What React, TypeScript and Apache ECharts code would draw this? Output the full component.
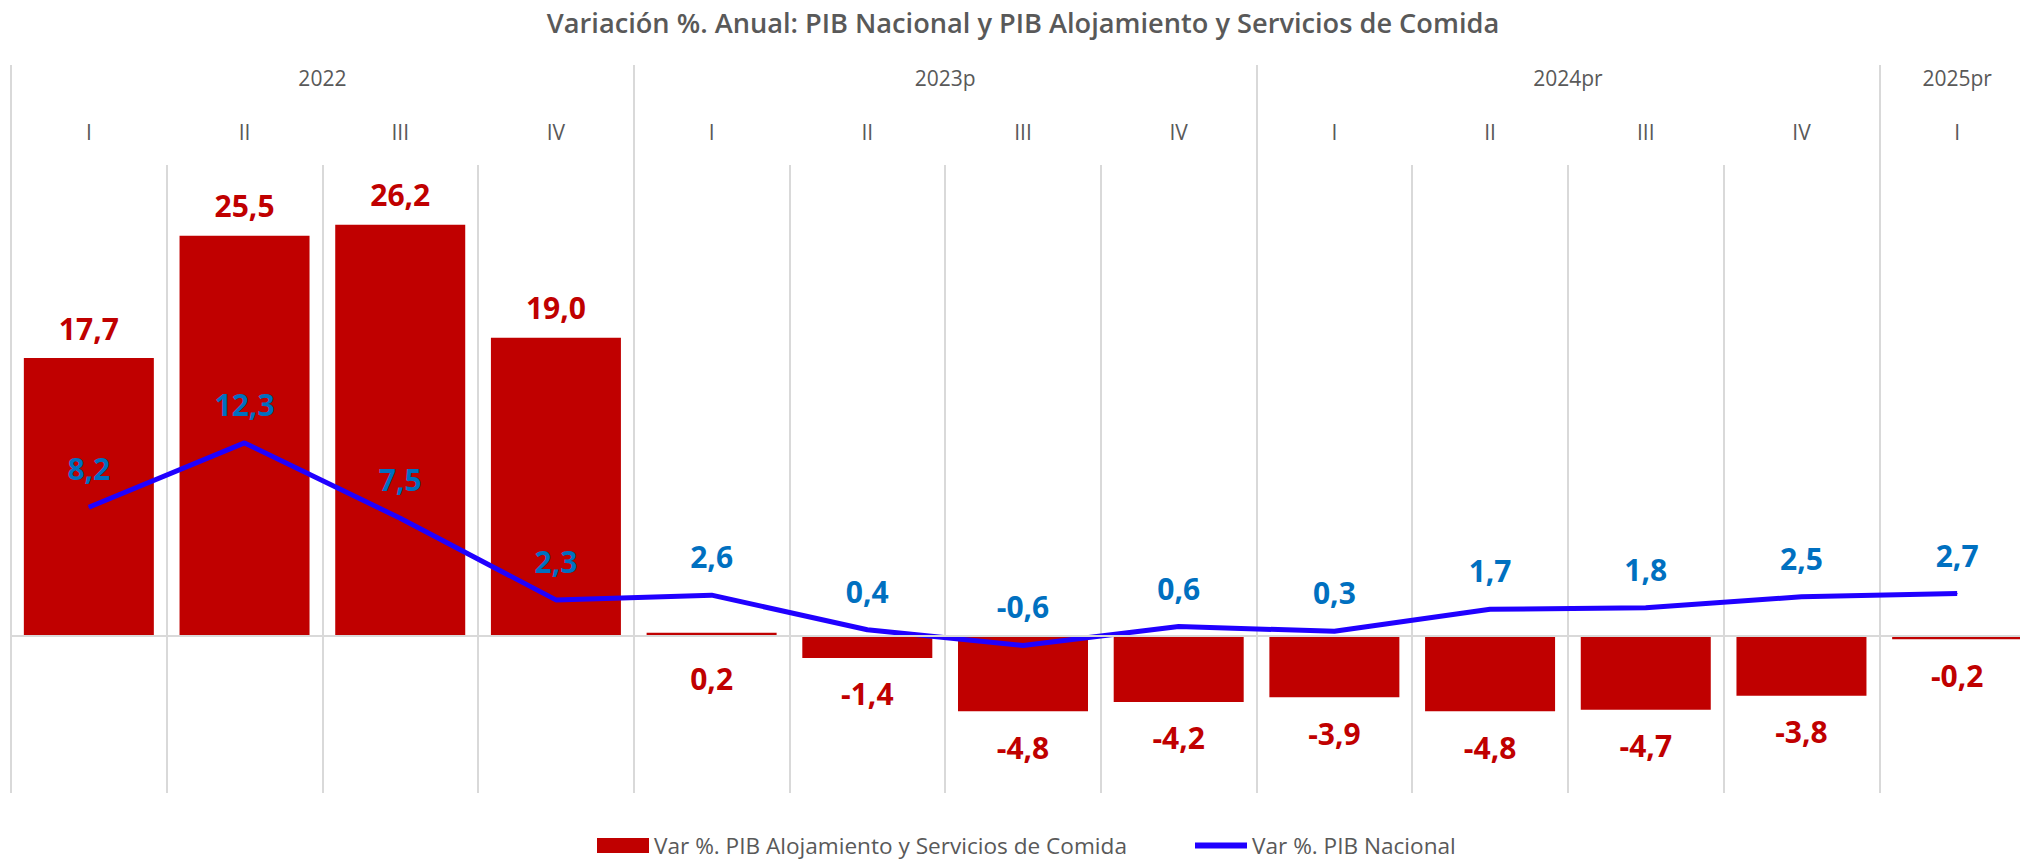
import React, { useEffect, useRef } from "react";
import * as echarts from "echarts";

const quarters = ["I", "II", "III", "IV", "I", "II", "III", "IV", "I", "II", "III", "IV", "I"];
const years = ["2022", "2023p", "2024pr", "2025pr"];
const yearCenters = [2, 6, 10, 12.5];
const yearBounds = [0, 4, 8, 12];
const alojamiento = [17.7, 25.5, 26.2, 19.0, 0.2, -1.4, -4.8, -4.2, -3.9, -4.8, -4.7, -3.8, -0.2];
const nacional = [8.2, 12.3, 7.5, 2.3, 2.6, 0.4, -0.6, 0.6, 0.3, 1.7, 1.8, 2.5, 2.7];

const barName = "Var %. PIB Alojamiento y Servicios de Comida";
const lineName = "Var %. PIB Nacional";
const titleText = "Variación %. Anual: PIB Nacional y PIB Alojamiento y Servicios de Comida";

const FONT = "'Open Sans', 'Noto Sans', sans-serif";
const GRAY = "#595959";
const GRID = "#D9D9D9";
const RED = "#C00000";
const BLUE_LABEL = "#0070C0";
const BLUE_LINE = "#2000FF";

const fmt = (v: number) => v.toFixed(1).replace(".", ",");

export default function App() {
  const ref = useRef<HTMLDivElement>(null);
  useEffect(() => {
    if (!ref.current) return;
    const chart = echarts.init(ref.current, null, { renderer: "svg" });
    const legendText = { fontFamily: FONT, fontSize: 22.6, lineHeight: 23, color: GRAY };
    const option: any = {
      animation: false,
      backgroundColor: "#ffffff",
      title: {
        text: titleText,
        left: 1018,
        textAlign: "center",
        top: 4,
        textStyle: { fontFamily: FONT, fontSize: 27.2, fontWeight: 600, color: GRAY },
      },
      legend: [
        {
          data: [barName],
          left: 597,
          top: 834,
          padding: 0,
          icon: "rect",
          itemWidth: 52,
          itemHeight: 15,
          textStyle: legendText,
        },
        {
          data: [lineName],
          left: 1195,
          top: 834,
          padding: 0,
          icon: "rect",
          itemWidth: 52,
          itemHeight: 6,
          textStyle: legendText,
        },
      ],
      grid: { left: 11, top: 165, width: 2024, height: 628, containLabel: false },
      xAxis: [
        {
          type: "category",
          data: quarters,
          position: "top",
          boundaryGap: true,
          axisLine: { show: false, onZero: false },
          axisTick: { show: false },
          axisLabel: {
            interval: 0,
            margin: 23,
            fontFamily: FONT,
            fontSize: 21,
            color: GRAY,
          },
          splitLine: { show: true, interval: 0, lineStyle: { color: GRID, width: 2 } },
        },
        {
          type: "value",
          min: 0,
          max: 13,
          interval: 4,
          position: "top",
          axisLine: { show: false, onZero: false },
          axisTick: {
            show: true,
            length: 100,
            customValues: yearBounds,
            lineStyle: { color: GRID, width: 2 },
          },
          axisLabel: {
            show: true,
            customValues: yearCenters,
            margin: 77,
            fontFamily: FONT,
            fontSize: 21,
            color: GRAY,
            formatter: (v: number) => {
              const i = yearCenters.indexOf(v);
              return i >= 0 ? years[i] : "";
            },
          },
          splitLine: { show: false },
        },
      ],
      yAxis: {
        type: "value",
        min: -10,
        max: 30,
        axisLine: { show: false },
        axisTick: { show: false },
        axisLabel: { show: false },
        splitLine: { show: false },
      },
      series: [
        {
          name: barName,
          type: "bar",
          xAxisIndex: 0,
          barWidth: 130,
          itemStyle: { color: RED },
          data: alojamiento.map((v) => ({
            value: v,
            label: {
              position: v >= 1 ? "top" : "bottom",
              distance: v >= 1 ? 15 : v >= 0 ? 27 : 21,
            },
          })),
          label: {
            show: true,
            formatter: (p: any) => fmt(p.value),
            fontFamily: FONT,
            fontSize: 30,
            fontWeight: "bold",
            color: RED,
          },
          markLine: {
            silent: true,
            symbol: ["none", "none"],
            label: { show: false },
            lineStyle: { color: GRID, width: 2, type: "solid" },
            data: [{ yAxis: 0 }],
          },
          z: 2,
        },
        {
          name: lineName,
          type: "line",
          xAxisIndex: 0,
          data: nacional,
          symbol: "circle",
          symbolSize: 1,
          itemStyle: { color: BLUE_LINE },
          lineStyle: { color: BLUE_LINE, width: 5 },
          label: {
            show: true,
            position: "top",
            distance: 23,
            formatter: (p: any) => fmt(p.value),
            fontFamily: FONT,
            fontSize: 30,
            fontWeight: "bold",
            color: BLUE_LABEL,
          },
          z: 3,
        },
      ],
    };
    chart.setOption(option);
    return () => chart.dispose();
  }, []);
  return (
    <div style={{ position: "absolute", left: 0, top: 0, width: 2020, height: 860, overflow: "hidden" }}>
      <div ref={ref} style={{ width: 2035, height: 860 }} />
    </div>
  );
}
